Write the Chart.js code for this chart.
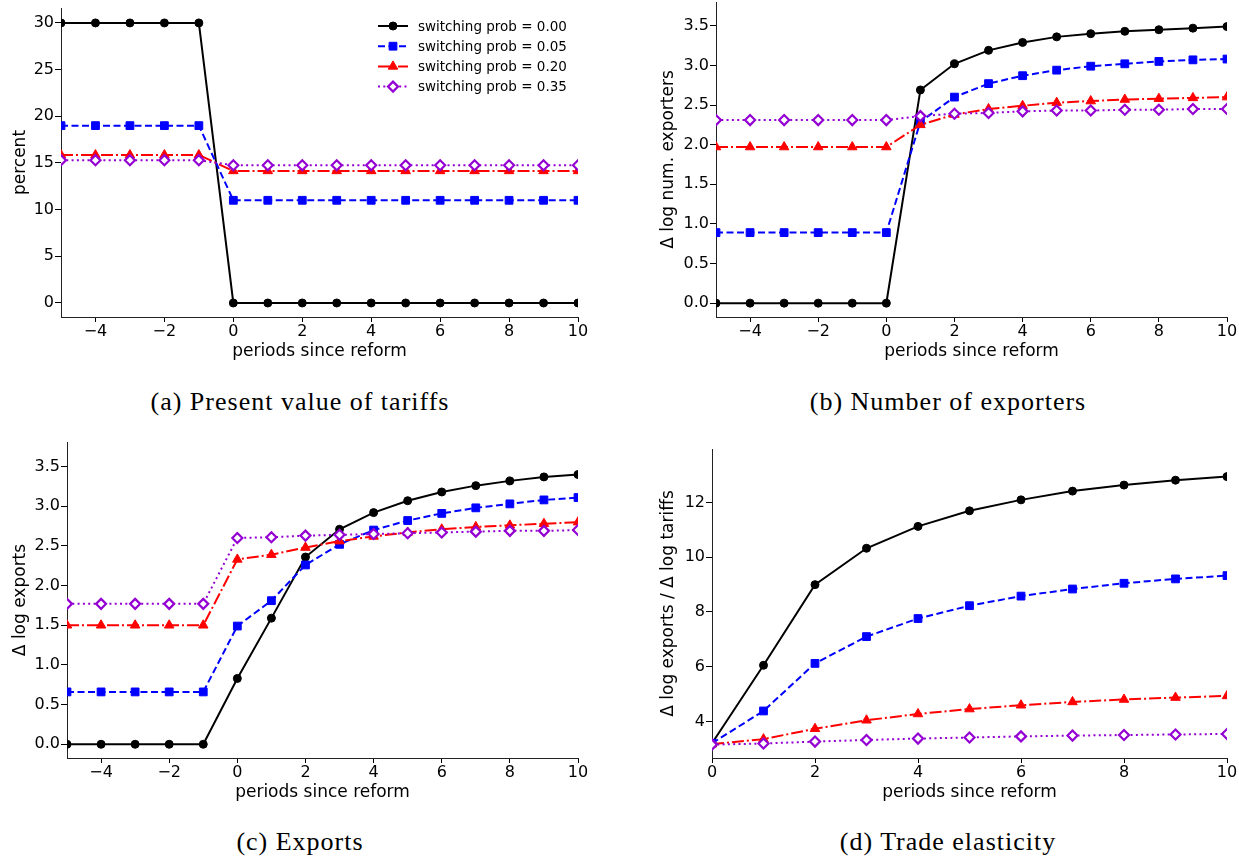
<!DOCTYPE html>
<html>
<head>
<meta charset="utf-8">
<script src="https://cdn.jsdelivr.net/npm/chart.js@4.4.1/dist/chart.umd.min.js"></script>
<style>
  body { margin: 0; background: #fff; width: 1239px; height: 856px; overflow: hidden; position: relative; }
  canvas { position: absolute; }
  .cap { position: absolute; width: 600px; text-align: center; font-family: "Liberation Serif", "DejaVu Serif", serif; font-size: 26px; letter-spacing: 1px; color: #000; }
</style>
</head>
<body>
<canvas id="tariffs" width="610" height="375" style="left:0px;top:0px"></canvas>
<canvas id="exporters" width="609" height="375" style="left:630px;top:0px"></canvas>
<canvas id="exports" width="610" height="390" style="left:0px;top:430px"></canvas>
<canvas id="elasticity" width="609" height="390" style="left:630px;top:430px"></canvas>
<div class="cap" style="left:0px;top:387px">(a) Present value of tariffs</div>
<div class="cap" style="left:648px;top:387px">(b) Number of exporters</div>
<div class="cap" style="left:0px;top:827px">(c) Exports</div>
<div class="cap" style="left:648px;top:827px">(d) Trade elasticity</div>
<script>
// periods on the x axis
const periods = [-5, -4, -3, -2, -1, 0, 1, 2, 3, 4, 5, 6, 7, 8, 9, 10];
const periodsPost = [0, 1, 2, 3, 4, 5, 6, 7, 8, 9, 10];
const seriesNames = ['switching prob = 0.00', 'switching prob = 0.05', 'switching prob = 0.20', 'switching prob = 0.35'];

// (a) present value of tariffs, percent
const tariffs00 = [30, 30, 30, 30, 30, 0, 0, 0, 0, 0, 0, 0, 0, 0, 0, 0];
const tariffs05 = [19, 19, 19, 19, 19, 11, 11, 11, 11, 11, 11, 11, 11, 11, 11, 11];
const tariffs20 = [15.85, 15.85, 15.85, 15.85, 15.85, 14.15, 14.15, 14.15, 14.15, 14.15, 14.15, 14.15, 14.15, 14.15, 14.15, 14.15];
const tariffs35 = [15.3, 15.3, 15.3, 15.3, 15.3, 14.75, 14.75, 14.75, 14.75, 14.75, 14.75, 14.75, 14.75, 14.75, 14.75, 14.75];

// (b) change in log number of exporters
const exporters00 = [0, 0, 0, 0, 0, 0, 2.69, 3.02, 3.19, 3.29, 3.36, 3.40, 3.43, 3.45, 3.47, 3.49];
const exporters05 = [0.89, 0.89, 0.89, 0.89, 0.89, 0.89, 2.29, 2.60, 2.77, 2.87, 2.94, 2.99, 3.02, 3.05, 3.07, 3.08];
const exporters20 = [1.97, 1.97, 1.97, 1.97, 1.97, 1.97, 2.25, 2.38, 2.45, 2.49, 2.53, 2.55, 2.57, 2.58, 2.59, 2.60];
const exporters35 = [2.31, 2.31, 2.31, 2.31, 2.31, 2.31, 2.36, 2.39, 2.40, 2.42, 2.43, 2.43, 2.44, 2.44, 2.45, 2.45];

// (c) change in log exports
const exports00 = [0, 0, 0, 0, 0, 0.83, 1.59, 2.36, 2.71, 2.92, 3.07, 3.18, 3.26, 3.32, 3.37, 3.40];
const exports05 = [0.66, 0.66, 0.66, 0.66, 0.66, 1.49, 1.81, 2.26, 2.52, 2.70, 2.82, 2.91, 2.98, 3.03, 3.08, 3.11];
const exports20 = [1.50, 1.50, 1.50, 1.50, 1.50, 2.33, 2.39, 2.48, 2.56, 2.62, 2.67, 2.71, 2.74, 2.76, 2.78, 2.80];
const exports35 = [1.77, 1.77, 1.77, 1.77, 1.77, 2.60, 2.61, 2.63, 2.64, 2.65, 2.66, 2.67, 2.68, 2.69, 2.69, 2.70];

// (d) trade elasticity
const elasticity00 = [3.2, 6.05, 9.0, 10.33, 11.13, 11.70, 12.10, 12.42, 12.64, 12.82, 12.95];
const elasticity05 = [3.2, 4.38, 6.12, 7.10, 7.76, 8.23, 8.58, 8.84, 9.05, 9.21, 9.33];
const elasticity20 = [3.17, 3.35, 3.73, 4.04, 4.27, 4.45, 4.59, 4.71, 4.80, 4.87, 4.93];
const elasticity35 = [3.15, 3.19, 3.26, 3.32, 3.37, 3.41, 3.45, 3.48, 3.50, 3.52, 3.54];

// tick labels
const xTicksAll = [-4, -2, 0, 2, 4, 6, 8, 10];
const xTicksPost = [0, 2, 4, 6, 8, 10];
const tariffTicks = [0, 5, 10, 15, 20, 25, 30];
const logTicks = [0, 0.5, 1.0, 1.5, 2.0, 2.5, 3.0, 3.5];
const elasticityTicks = [4, 6, 8, 10, 12];

const styles = [
  { color: '#000000', dash: [], point: 'circle', radius: 4, fill: '#000000' },
  { color: '#0000ff', dash: [7, 3.5], point: 'rect', radius: 5.5, fill: '#0000ff' },
  { color: '#ff0000', dash: [12, 3, 2, 3], point: 'triangle', radius: 5.5, fill: '#ff0000' },
  { color: '#9400d3', dash: [2, 3.3], point: 'rectRot', radius: 5, fill: '#ffffff' }
];

const tickFont = { family: 'DejaVu Sans', size: 16 };
const titleFont = { family: 'DejaVu Sans', size: 17 };

function fmt(v, dec) {
  const s = Math.abs(v).toFixed(dec);
  return v < 0 ? '\u2212' + s : s;
}

function makeDatasets(xs, series) {
  return series.map((vals, i) => ({
    label: seriesNames[i],
    data: xs.map((x, j) => ({ x: x, y: vals[j] })),
    borderColor: styles[i].color,
    borderWidth: 2,
    borderDash: styles[i].dash,
    pointStyle: styles[i].point,
    pointRadius: styles[i].radius,
    pointBackgroundColor: styles[i].fill,
    pointBorderColor: styles[i].color,
    pointBorderWidth: i === 3 ? 2.2 : 1,
    tension: 0
  })).reverse();
}

const legendInside = {
  id: 'legendInside',
  afterDraw(chart) {
    const ctx = chart.ctx;
    ctx.save();
    seriesNames.forEach((name, i) => {
      const y = 26 + i * 20.2;
      const st = styles[i];
      ctx.strokeStyle = st.color;
      ctx.lineWidth = 2;
      ctx.setLineDash(st.dash);
      ctx.beginPath();
      ctx.moveTo(378, y);
      ctx.lineTo(408, y);
      ctx.stroke();
      ctx.setLineDash([]);
      ctx.fillStyle = st.fill;
      ctx.strokeStyle = st.color;
      ctx.lineWidth = i === 3 ? 2.2 : 1;
      Chart.helpers.drawPoint(ctx, { pointStyle: st.point, radius: st.radius, rotation: 0, borderWidth: ctx.lineWidth }, 393, y);
      ctx.fillStyle = '#000';
      ctx.font = '13.5px "DejaVu Sans"';
      ctx.textBaseline = 'middle';
      ctx.fillText(name, 418, y + 1);
    });
    ctx.restore();
  }
};

function makeChart(id, c) {
  new Chart(document.getElementById(id), {
    type: 'line',
    data: { datasets: c.datasets },
    plugins: c.legend ? [legendInside] : [],
    options: {
      responsive: false,
      animation: false,
      layout: { autoPadding: false, padding: c.padding },
      plugins: { legend: { display: false }, tooltip: { enabled: false } },
      scales: {
        x: {
          type: 'linear',
          min: c.xMin, max: c.xMax,
          afterBuildTicks: s => { s.ticks = c.xTicks.map(v => ({ value: v })); },
          afterFit: s => { s.height = 50; s.paddingLeft = 0; s.paddingRight = 0; },
          grid: { drawOnChartArea: false, drawTicks: true, tickLength: 5, color: '#000' },
          border: { display: true, color: '#222', width: 1 },
          ticks: { font: tickFont, color: '#000', padding: 0, maxRotation: 0, callback: v => fmt(v, 0) },
          title: { display: true, text: 'periods since reform', font: titleFont, color: '#000', padding: { top: 0, bottom: 5 } }
        },
        y: {
          min: c.yMin, max: c.yMax,
          afterBuildTicks: s => { s.ticks = c.yTicks.map(v => ({ value: v })); },
          afterFit: s => { s.width = c.yWidth; s.paddingTop = 0; s.paddingBottom = 0; },
          grid: { drawOnChartArea: false, drawTicks: true, tickLength: 6, color: '#000' },
          border: { display: true, color: '#222', width: 1 },
          ticks: { font: tickFont, color: '#000', padding: 1, callback: v => fmt(v, c.yDec) },
          title: { display: true, text: c.yTitle, font: titleFont, color: '#000', padding: { top: c.yTitlePad, bottom: 0 } }
        }
      }
    }
  });
}

makeChart('tariffs', {
  datasets: makeDatasets(periods, [tariffs00, tariffs05, tariffs20, tariffs35]),
  xMin: -5, xMax: 10, xTicks: xTicksAll,
  yMin: -1.5, yMax: 31.6, yTicks: tariffTicks, yDec: 0,
  yTitle: 'percent', yWidth: 61, yTitlePad: 10,
  padding: { top: 8, right: 32, bottom: 8, left: 0 },
  legend: true
});

makeChart('exporters', {
  datasets: makeDatasets(periods, [exporters00, exporters05, exporters20, exporters35]),
  xMin: -5, xMax: 10, xTicks: xTicksAll,
  yMin: -0.175, yMax: 3.8, yTicks: logTicks, yDec: 1,
  yTitle: '\u0394 log num. exporters', yWidth: 86, yTitlePad: 28,
  padding: { top: 2, right: 12, bottom: 8, left: 0 }
});

makeChart('exports', {
  datasets: makeDatasets(periods, [exports00, exports05, exports20, exports35]),
  xMin: -5, xMax: 10, xTicks: xTicksAll,
  yMin: -0.173, yMax: 3.81, yTicks: logTicks, yDec: 1,
  yTitle: '\u0394 log exports', yWidth: 67, yTitlePad: 10,
  padding: { top: 12, right: 32, bottom: 12, left: 0 }
});

makeChart('elasticity', {
  datasets: makeDatasets(periodsPost, [elasticity00, elasticity05, elasticity20, elasticity35]),
  xMin: 0, xMax: 10, xTicks: xTicksPost,
  yMin: 2.66, yMax: 13.96, yTicks: elasticityTicks, yDec: 0,
  yTitle: '\u0394 log exports / \u0394 log tariffs', yWidth: 82, yTitlePad: 28,
  padding: { top: 19, right: 12, bottom: 12, left: 0 }
});
</script>
</body>
</html>
